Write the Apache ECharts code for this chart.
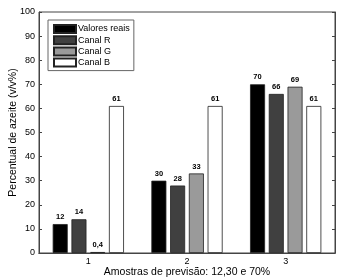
<!DOCTYPE html>
<html>
<head>
<meta charset="utf-8">
<script src="https://cdn.jsdelivr.net/npm/echarts@6/dist/echarts.min.js"></script>
<style>
  html, body { margin: 0; padding: 0; background: #fff; }
  #chart { width: 342px; height: 279px; }
</style>
</head>
<body>
<div id="chart"></div>
<script>
    // amostras de previsao
    var categories = ['1', '2', '3']
    var valoresReais = [12, 30, 70]
    var canalR = [14, 28, 66]
    var canalG = [0.4, 33, 69]
    var canalB = [61, 61, 61]
    var yTicks = [0, 10, 20, 30, 40, 50, 60, 70, 80, 90, 100]

    var font = 'Liberation Sans, Arial, sans-serif'

    function makeSeries (name, data, color) {
        return {
            name: name,
            type: 'bar',
            xAxisIndex: 0,
            data: data,
            barWidth: 15,
            barGap: '25%',
            itemStyle: {
                color: color,
                borderColor: '#222',
                borderWidth: 0.8
            },
            label: {
                show: true,
                position: 'top',
                distance: 3,
                fontSize: 7.5,
                fontWeight: 'bold',
                fontFamily: font,
                color: '#000',
                formatter: function (p) {
                    return String(p.value).replace('.', ',')
                }
            }
        }
    }

    var myChart = echarts.init(document.getElementById('chart'))
    var option = {
        backgroundColor: '#fff',
        animation: false,
        grid: {
            left: 39,
            right: 7,
            top: 12,
            bottom: 26,
            outerBoundsMode: 'none',
            show: true,
            borderColor: '#444',
            borderWidth: 1
        },
        legend: {
            orient: 'vertical',
            left: 48,
            top: 20,
            padding: [4, 4, 3, 5],
            itemWidth: 22,
            itemHeight: 8,
            itemGap: 1.2,
            icon: 'rect',
            borderColor: '#666',
            borderWidth: 1,
            backgroundColor: '#fff',
            textStyle: { fontSize: 9, lineHeight: 10, fontFamily: font, color: '#000', padding: [0, 0, 0, -3] },
            data: ['Valores reais', 'Canal R', 'Canal G', 'Canal B']
        },
        xAxis: [{
            type: 'category',
            data: categories,
            name: 'Amostras de previsão: 12,30 e 70%',
            nameLocation: 'middle',
            nameGap: 19,
            nameMoveOverlap: false,
            nameTextStyle: { fontSize: 10.5, fontFamily: font, color: '#000', verticalAlign: 'middle' },
            axisLine: { lineStyle: { color: '#444' } },
            axisTick: { inside: true, alignWithLabel: true, length: 3, lineStyle: { color: '#444' } },
            axisLabel: { fontSize: 9, fontFamily: font, color: '#000', margin: 4 }
        }, {
            type: 'category',
            data: categories,
            position: 'top',
            axisLine: { lineStyle: { color: '#444' } },
            axisTick: { inside: true, alignWithLabel: true, length: 3, lineStyle: { color: '#444' } },
            axisLabel: { show: false }
        }],
        yAxis: [{
            type: 'value',
            min: yTicks[0],
            max: yTicks[yTicks.length - 1],
            interval: 10,
            name: 'Percentual de azeite (v/v%)',
            nameLocation: 'middle',
            nameGap: 26,
            nameMoveOverlap: false,
            nameTextStyle: { fontSize: 10.5, fontFamily: font, color: '#000', verticalAlign: 'middle' },
            axisLine: { show: true, lineStyle: { color: '#444' } },
            axisTick: { show: true, inside: true, length: 3, lineStyle: { color: '#444' } },
            axisLabel: { fontSize: 9, fontFamily: font, color: '#000', margin: 4 },
            splitLine: { show: false }
        }, {
            type: 'value',
            min: yTicks[0],
            max: yTicks[yTicks.length - 1],
            interval: 10,
            position: 'right',
            axisLine: { show: true, lineStyle: { color: '#444' } },
            axisTick: { show: true, inside: true, length: 3, lineStyle: { color: '#444' } },
            axisLabel: { show: false },
            splitLine: { show: false }
        }],
        series: [
            makeSeries('Valores reais', valoresReais, '#000000'),
            makeSeries('Canal R', canalR, '#404040'),
            makeSeries('Canal G', canalG, '#9a9a9a'),
            makeSeries('Canal B', canalB, '#ffffff')
        ]
    }
    myChart.setOption(option)
</script>
</body>
</html>
